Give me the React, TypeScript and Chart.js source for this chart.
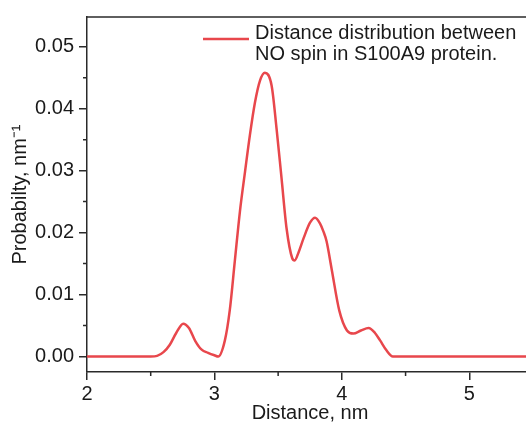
import React, { useEffect, useRef } from "react";
import { Chart, registerables } from "chart.js";

Chart.register(...registerables);

const DISTANCE = [
  2.0, 2.5, 2.55, 2.6, 2.65, 2.7, 2.755, 2.8, 2.85, 2.9, 2.95, 3.0, 3.03, 3.082, 3.12, 3.16, 3.2, 3.24, 3.278,
  3.318, 3.357, 3.396, 3.449, 3.488, 3.527, 3.566, 3.61, 3.63, 3.66, 3.7, 3.75, 3.79, 3.83, 3.855, 3.88, 3.92,
  3.98, 4.04, 4.09, 4.15, 4.21, 4.26, 4.3, 4.35, 4.4, 5.5,
];
const PROBABILITY = [
  0, 0, 0.0001, 0.0007, 0.0019, 0.0038, 0.0053, 0.0046, 0.0025, 0.0011, 0.0006, 0.0002, 0.0, 0.0026, 0.0074,
  0.0154, 0.0234, 0.0298, 0.0357, 0.041, 0.0445, 0.0458, 0.0437, 0.0367, 0.0287, 0.0207, 0.0159, 0.0155, 0.0168,
  0.0191, 0.0216, 0.0224, 0.0214, 0.0202, 0.0186, 0.0141, 0.0074, 0.0042, 0.0037, 0.0042, 0.0046, 0.0038, 0.0026,
  0.001, 0, 0,
];
const X_TICKS = [2, 3, 4, 5];
const X_MINOR = [2.5, 3.5, 4.5];
const Y_TICKS = [0, 0.01, 0.02, 0.03, 0.04, 0.05];
const Y_MINOR = [0.005, 0.015, 0.025, 0.035, 0.045];
const LEGEND_LINES = ["Distance distribution between", "NO spin in S100A9 protein."];
const X_TITLE = "Distance, nm";
const Y_TITLE = "Probabilty, nm\u207B\u00B9";

const AXIS_COLOR = "#2a2a2a";
const LINE_COLOR = "#e8474c";
const FONT = "'Liberation Sans', Arial, sans-serif";

const extrasPlugin = {
  id: "extras",
  afterDraw(chart: any) {
    const { ctx, chartArea, scales } = chart;
    const xs = scales.x;
    const ys = scales.y;
    ctx.save();
    ctx.strokeStyle = AXIS_COLOR;
    ctx.lineWidth = 1.5;
    // top border
    ctx.beginPath();
    ctx.moveTo(chartArea.left, chartArea.top);
    ctx.lineTo(chartArea.right + 20, chartArea.top);
    ctx.stroke();
    // minor ticks
    ctx.beginPath();
    X_MINOR.forEach((v) => {
      const px = xs.getPixelForValue(v);
      ctx.moveTo(px, chartArea.bottom);
      ctx.lineTo(px, chartArea.bottom + 4);
    });
    Y_MINOR.forEach((v) => {
      const py = ys.getPixelForValue(v);
      ctx.moveTo(chartArea.left, py);
      ctx.lineTo(chartArea.left - 4, py);
    });
    ctx.stroke();
    // legend
    const lx = chartArea.left + 116;
    const ly = chartArea.top + 22;
    ctx.strokeStyle = LINE_COLOR;
    ctx.lineWidth = 2.5;
    ctx.beginPath();
    ctx.moveTo(lx, ly);
    ctx.lineTo(lx + 46, ly);
    ctx.stroke();
    ctx.fillStyle = "#1a1a1a";
    ctx.font = `20px ${FONT}`;
    ctx.textAlign = "left";
    ctx.textBaseline = "alphabetic";
    LEGEND_LINES.forEach((t, i) => {
      ctx.fillText(t, lx + 52, chartArea.top + 22 + i * 21);
    });
    ctx.restore();
  },
};

export default function App() {
  const ref = useRef<HTMLCanvasElement>(null);
  useEffect(() => {
    if (!ref.current) return;
    const chart = new Chart(ref.current, {
      type: "line",
      data: {
        datasets: [
          {
            label: LEGEND_LINES.join(" "),
            data: DISTANCE.map((x, i) => ({ x, y: PROBABILITY[i] })),
            borderColor: LINE_COLOR,
            borderWidth: 2.5,
            pointRadius: 0,
            cubicInterpolationMode: "monotone",
            fill: false,
          },
        ],
      },
      options: {
        responsive: false,
        animation: false,
        layout: { padding: { top: 14, right: 12, left: 0, bottom: 0 } },
        plugins: { legend: { display: false }, tooltip: { enabled: false } },
        scales: {
          x: {
            type: "linear",
            min: 2,
            max: 5.5,
            afterBuildTicks: (s: any) => {
              s.ticks = X_TICKS.map((v) => ({ value: v }));
            },
            afterFit: (s: any) => {
              s.height = 53;
            },
            border: { display: true, color: AXIS_COLOR, width: 1.5 },
            grid: { drawOnChartArea: false, drawTicks: true, tickLength: 8, color: AXIS_COLOR, lineWidth: 1.5 },
            ticks: {
              color: "#1a1a1a",
              font: { family: FONT, size: 20 },
              padding: 2,
              maxRotation: 0,
              callback: (v: any) => String(v),
            },
            title: {
              display: true,
              text: X_TITLE,
              color: "#1a1a1a",
              font: { family: FONT, size: 20 },
              padding: { top: 0, bottom: 0 },
            },
          },
          y: {
            type: "linear",
            min: -0.0025,
            max: 0.0548,
            afterBuildTicks: (s: any) => {
              s.ticks = Y_TICKS.map((v) => ({ value: v }));
            },
            afterFit: (s: any) => {
              s.width = 87;
            },
            border: { display: true, color: AXIS_COLOR, width: 1.5 },
            grid: { drawOnChartArea: false, drawTicks: true, tickLength: 8, color: AXIS_COLOR, lineWidth: 1.5 },
            ticks: {
              color: "#1a1a1a",
              font: { family: FONT, size: 20 },
              padding: 5,
              callback: (v: any) => Number(v).toFixed(2),
            },
            title: {
              display: true,
              text: Y_TITLE,
              color: "#1a1a1a",
              font: { family: FONT, size: 20 },
              padding: { top: 8, bottom: 0 },
            },
          },
        },
      },
      plugins: [extrasPlugin],
    });
    return () => chart.destroy();
  }, []);
  return (
    <div style={{ position: "fixed", left: 0, top: 0, width: 526, height: 425, overflow: "hidden", background: "#fff" }}>
      <canvas ref={ref} width={545} height={425} style={{ display: "block" }} />
    </div>
  );
}
